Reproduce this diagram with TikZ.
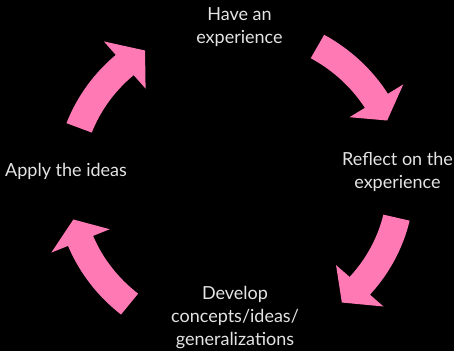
\documentclass[tikz,border=0pt]{standalone}
\usepackage{fontspec}
\setmainfont{Lato}
\definecolor{arrowpink}{RGB}{255,121,181}
\definecolor{textgray}{RGB}{228,228,228}
\tikzset{
  cyclearrow/.style={fill=arrowpink, draw=none},
  label/.style={text=textgray, align=center, inner sep=0pt,
    font=\fontsize{18}{23}\selectfont}
}
% #1 start angle, #2 barb angle, #3 tip angle
\newcommand{\cycarrow}[3]{%
  \fill[cyclearrow] (#1:179.5 and 170.5)
    arc[start angle=#1, end angle=#2, x radius=179.5, y radius=170.5]
    -- (#2:197.5 and 188.5) -- (#3:166 and 157) -- (#2:134.5 and 125.5)
    -- (#2:152.5 and 143.5)
    arc[start angle=#2, end angle=#1, x radius=152.5, y radius=143.5]
    -- cycle;}
\begin{document}
\begin{tikzpicture}[x=1pt,y=1pt]
\fill[black] (0,0) rectangle (454,351);
\useasboundingbox (0,0) rectangle (454,351);
\begin{scope}[shift={(234.7,168.4)}]
  \cycarrow{60.1}{31.4}{23.3}
  \cycarrow{-12.9}{-41.1}{-49.8}
  \cycarrow{230.7}{201.8}{193.6}
  \cycarrow{159.6}{131.5}{122.7}
\end{scope}
\node[label] (exp) at (239.5,323.5) {Have an\\experience};
\node[label] (refl) at (397.5,179) {Reflect on the\\experience};
\node[label] (dev) at (235,33.5) {Develop\\concepts/ideas/\\generalizations};
\node[label, anchor=west] (apply) at (5,179.5) {Apply the ideas};
\end{tikzpicture}
\end{document}
